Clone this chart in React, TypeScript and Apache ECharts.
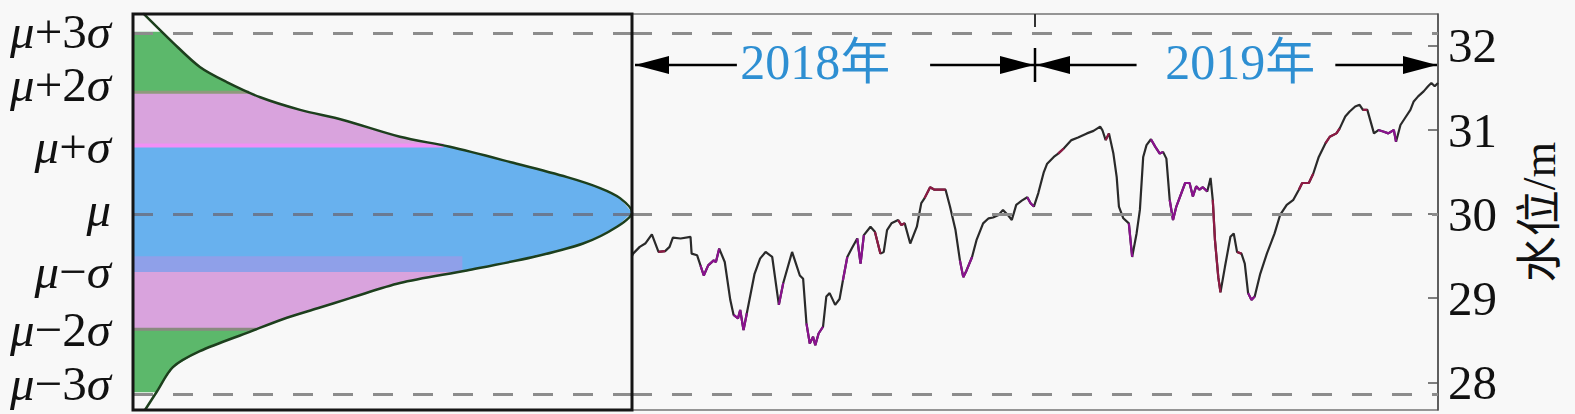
import { useEffect, useRef } from 'react';
import * as echarts from 'echarts';

// ---- time series (day index from 2018-01-01, water level in m) ----
const days = [0, 1, 7, 12, 18, 24, 30, 34, 37, 44, 53, 54, 59, 62, 65, 69, 74, 76, 79, 84, 89, 92, 96, 98, 101, 104, 111, 116, 121, 127, 133, 137, 145, 149, 152, 155, 158, 161, 164, 166, 169, 173, 176, 179, 184, 188, 191, 195, 199, 204, 207, 210, 216, 220, 225, 228, 231, 235, 241, 244, 247, 252, 258, 262, 265, 270, 274, 281, 284, 288, 293, 297, 300, 303, 308, 312, 318, 323, 327, 332, 336, 341, 344, 348, 353, 358, 361, 364, 368, 373, 376, 382, 386, 391, 398, 404, 412, 418, 424, 426, 429, 432, 436, 439, 441, 445, 450, 453, 457, 460, 463, 466, 470, 474, 478, 481, 484, 487, 490, 493, 501, 505, 508, 511, 514, 517, 521, 524, 526, 528, 531, 533, 537, 542, 545, 548, 552, 555, 558, 561, 564, 569, 575, 582, 587, 593, 599, 604, 607, 613, 617, 622, 628, 632, 638, 641, 646, 650, 655, 659, 662, 666, 669, 672, 676, 681, 685, 690, 692, 696, 700, 705, 708, 712, 717, 721, 724, 727, 730];
const levels = [29.50, 29.53, 29.61, 29.65, 29.76, 29.55, 29.56, 29.61, 29.72, 29.71, 29.73, 29.53, 29.51, 29.39, 29.27, 29.39, 29.45, 29.43, 29.59, 29.43, 28.98, 28.80, 28.76, 28.86, 28.62, 28.82, 29.29, 29.47, 29.55, 29.49, 28.92, 29.18, 29.55, 29.39, 29.27, 29.23, 28.70, 28.46, 28.54, 28.44, 28.58, 28.66, 29.02, 29.06, 28.92, 28.99, 29.21, 29.49, 29.59, 29.71, 29.41, 29.75, 29.85, 29.79, 29.53, 29.55, 29.81, 29.89, 29.93, 29.87, 29.89, 29.65, 29.85, 30.13, 30.19, 30.32, 30.29, 30.29, 30.29, 30.09, 29.81, 29.45, 29.25, 29.33, 29.49, 29.69, 29.89, 29.95, 29.96, 29.99, 30.05, 29.98, 29.93, 30.11, 30.16, 30.20, 30.13, 30.09, 30.25, 30.50, 30.60, 30.68, 30.72, 30.78, 30.88, 30.91, 30.96, 30.99, 31.04, 31.00, 30.88, 30.96, 30.72, 30.44, 30.09, 29.95, 29.89, 29.49, 29.77, 30.05, 30.68, 30.82, 30.89, 30.80, 30.72, 30.74, 30.66, 30.17, 29.93, 30.09, 30.37, 30.37, 30.21, 30.33, 30.29, 30.32, 30.27, 30.43, 30.17, 29.69, 29.25, 29.07, 29.37, 29.73, 29.77, 29.55, 29.53, 29.41, 29.06, 28.98, 29.02, 29.29, 29.53, 29.77, 29.99, 30.11, 30.17, 30.29, 30.37, 30.37, 30.48, 30.68, 30.84, 30.92, 30.96, 31.02, 31.16, 31.22, 31.28, 31.30, 31.24, 31.24, 31.10, 30.96, 31.00, 30.98, 30.96, 31.00, 30.86, 31.06, 31.14, 31.24, 31.34, 31.40, 31.46, 31.52, 31.56, 31.52, 31.56];

// highlighted stretches of the record (day ranges)
const purpleRanges = [[62, 80], [92, 104], [130, 143], [157, 175], [191, 198], [203, 212], [297, 311], [354, 367], [449, 456], [469, 483], [487, 501], [503, 523], [557, 567], [673, 694]];
const redRanges = [[21, 33], [220, 225], [236, 250], [265, 284], [384, 397], [427, 433], [525, 534], [546, 551], [602, 617], [628, 641], [662, 668]];

// ---- distribution curve (level in m, relative density 0..1) ----
const curveLevels = [32.39, 32.04, 31.75, 31.57, 31.39, 31.24, 31.12, 30.92, 30.80, 30.61, 30.44, 30.31, 30.19, 30.02, 29.85, 29.65, 29.49, 29.33, 29.18, 29.00, 28.88, 28.75, 28.60, 28.37, 28.18, 27.89, 27.67];
const curveDensity = [0.020, 0.080, 0.134, 0.188, 0.255, 0.335, 0.421, 0.535, 0.635, 0.762, 0.870, 0.936, 0.976, 1.000, 0.970, 0.902, 0.802, 0.669, 0.535, 0.435, 0.370, 0.300, 0.234, 0.134, 0.080, 0.048, 0.024];

// σ bands (level limits)
const bandLow = [31.45, 30.81, 29.31, 29.31, 28.63, 27.88];
const bandHigh = [32.17, 31.45, 30.81, 29.50, 29.31, 28.63];
const bandCap = [1, 1, 1, 0.66, 1, 1];
const boundaryLevels = [31.45, 30.815, 28.63];

// reference lines μ+3σ, μ, μ−3σ
const refLevels = [32.15, 30.0, 27.86];
const muLevel = 30.0;

// left labels
const sigmaLabels = ['μ+3σ', 'μ+2σ', 'μ+σ', 'μ', 'μ−σ', 'μ−2σ', 'μ−3σ'];
const sigmaLabelLevels = [32.17, 31.54, 30.80, 30.06, 29.32, 28.63, 27.98];

// right axis ticks
const tickValues = [28, 29, 30, 31, 32];

// year annotation
const yearLabels = ['2018年', '2019年'];
const yearBounds = [0, 365, 730];
const yearTextDay = [166, 551];
const yearGapStart = [95, 457];
const yearGapEnd = [270, 637];

// ---- styles / layout ----
const BANDCOLORS = ['#5cb86b', '#d9a3dd', '#68b1ee', '#8fa0e9', '#d9a3dd', '#5cb86b'];
const BOUNDCOLORS = ['#8f9a7c', '#f290f5', '#8a8a80'];
const GRID_TOP = 14;
const GRID_H = 396;
const LEFT_X = 133;
const LEFT_W = 499;
const RIGHT_X = 632;
const RIGHT_W = 806;
const Y_MIN = 27.67;
const Y_MAX = 32.38;
const SERIF = "'Liberation Serif', 'Times New Roman', 'Noto Sans CJK SC', serif";

function densityAt(lv: number): number {
  for (let i = 0; i < curveLevels.length - 1; i++) {
    const a = curveLevels[i];
    const b = curveLevels[i + 1];
    if (lv <= a && lv >= b) {
      const t = (a - lv) / (a - b);
      return curveDensity[i] + t * (curveDensity[i + 1] - curveDensity[i]);
    }
  }
  return 0;
}

function pick(ranges: number[][]) {
  const keep = days.map(() => false);
  for (const [s, e] of ranges) {
    const idx: number[] = [];
    days.forEach((d, i) => { if (d >= s && d <= e) idx.push(i); });
    if (idx.length === 0) {
      const j = days.findIndex((d) => d > e);
      if (j > 0) { idx.push(j - 1, j); }
    } else if (idx.length === 1) {
      const j = idx[0];
      if (j + 1 < days.length) idx.push(j + 1);
    }
    idx.forEach((i) => { keep[i] = true; });
  }
  return days.map((d, i) => (keep[i] ? [d, levels[i]] : [d, '-']));
}

function richLabel(s: string): string {
  let out = '';
  let buf = '';
  for (const ch of s) {
    if (ch === 'μ' || ch === 'σ') {
      if (buf) { out += `{n|${buf}}`; buf = ''; }
      out += `{i|${ch}}`;
    } else buf += ch;
  }
  if (buf) out += `{n|${buf}}`;
  return out;
}

export default function App() {
  const ref = useRef<HTMLDivElement>(null);
  useEffect(() => {
    if (!ref.current) return;
    const chart = echarts.init(ref.current, null, { renderer: 'svg' });
    const dash = { type: [20, 20], color: '#8c8c8c', width: 3 };
    const option: any = {
      animation: false,
      backgroundColor: '#f8f8f8',
      grid: [
        { left: LEFT_X, top: GRID_TOP, width: LEFT_W, height: GRID_H, show: false },
        { left: RIGHT_X, top: GRID_TOP, width: RIGHT_W, height: GRID_H, show: true, borderColor: '#333', borderWidth: 1.2, backgroundColor: 'transparent' },
      ],
      xAxis: [
        { gridIndex: 0, type: 'value', min: 0, max: 1, show: false },
        { gridIndex: 1, type: 'value', min: 0, max: 730, show: false },
      ],
      yAxis: [
        {
          gridIndex: 0, type: 'value', min: Y_MIN, max: Y_MAX, position: 'left',
          axisLine: { show: false, onZero: false }, axisTick: { show: false }, splitLine: { show: false },
          axisLabel: {
            customValues: sigmaLabelLevels,
            margin: 22,
            formatter: (v: number) => {
              const i = sigmaLabelLevels.findIndex((l) => Math.abs(l - v) < 1e-6);
              return i >= 0 ? richLabel(sigmaLabels[i]) : '';
            },
            rich: {
              i: { fontStyle: 'italic', fontSize: 49, fontFamily: SERIF, color: '#111' },
              n: { fontSize: 49, fontFamily: SERIF, color: '#111' },
            },
          },
        },
        {
          gridIndex: 1, type: 'value', min: Y_MIN, max: Y_MAX, position: 'right',
          axisLine: { show: true, onZero: false, lineStyle: { color: '#555', width: 1.5 } },
          axisTick: { show: true, inside: true, length: 10, customValues: tickValues, lineStyle: { color: '#555', width: 1.5 } },
          splitLine: { show: false },
          axisLabel: { customValues: tickValues, margin: 10, fontSize: 49, fontFamily: SERIF, color: '#111' },
          name: '水位/m', nameLocation: 'middle', nameRotate: 90, nameGap: 78,
          nameTextStyle: { fontSize: 46, fontFamily: SERIF, color: '#111' },
        },
      ],
      series: [
        {
          type: 'line', xAxisIndex: 0, yAxisIndex: 0, z: 1, data: [[0.5, Y_MIN - 5]], showSymbol: false, silent: true,
          markLine: { silent: true, symbol: 'none', label: { show: false }, lineStyle: dash, data: refLevels.map((v) => ({ yAxis: v })) },
        },
        {
          type: 'custom', xAxisIndex: 0, yAxisIndex: 0, z: 2, silent: true,
          data: bandLow.map((lo, i) => [0, lo, i]),
          renderItem: (params: any, api: any) => {
            const k = params.dataIndex;
            const lo = bandLow[k];
            const hi = bandHigh[k];
            const cap = bandCap[k];
            const pts: number[][] = [];
            pts.push(api.coord([0, hi]));
            pts.push(api.coord([Math.min(densityAt(hi), cap), hi]));
            for (let j = 0; j < curveLevels.length; j++) {
              const lv = curveLevels[j];
              if (lv < hi && lv > lo) pts.push(api.coord([Math.min(curveDensity[j], cap), lv]));
            }
            pts.push(api.coord([Math.min(densityAt(lo), cap), lo]));
            pts.push(api.coord([0, lo]));
            return { type: 'polygon', shape: { points: pts }, style: { fill: BANDCOLORS[k] } };
          },
        },
        {
          type: 'custom', xAxisIndex: 0, yAxisIndex: 0, z: 3, silent: true,
          data: boundaryLevels.map((lv, i) => [0, lv, i]),
          renderItem: (params: any, api: any) => {
            const k = params.dataIndex;
            const lv = boundaryLevels[k];
            const a = api.coord([0, lv]);
            const b = api.coord([densityAt(lv), lv]);
            return { type: 'line', shape: { x1: a[0], y1: a[1], x2: b[0], y2: b[1] }, style: { stroke: BOUNDCOLORS[k], lineWidth: k === 1 ? 4 : 3 } };
          },
        },
        {
          type: 'line', xAxisIndex: 0, yAxisIndex: 0, z: 4, data: [[0.5, Y_MIN - 5]], showSymbol: false, silent: true,
          markLine: { silent: true, symbol: 'none', label: { show: false }, lineStyle: { type: [20, 20], color: 'rgba(40,90,160,0.35)', width: 3 }, data: [{ yAxis: muLevel }] },
        },
        {
          type: 'line', xAxisIndex: 0, yAxisIndex: 0, z: 5, silent: true, showSymbol: false, smooth: 0.3,
          data: curveLevels.map((lv, i) => [curveDensity[i], lv]),
          lineStyle: { color: '#1d3f1d', width: 2.5 },
        },
        {
          type: 'line', xAxisIndex: 1, yAxisIndex: 1, z: 1, data: [[365, Y_MIN - 5]], showSymbol: false, silent: true,
          markLine: { silent: true, symbol: 'none', label: { show: false }, lineStyle: dash, data: refLevels.map((v) => ({ yAxis: v })) },
        },
        {
          type: 'line', xAxisIndex: 1, yAxisIndex: 1, z: 3, silent: true, showSymbol: false,
          data: days.map((d, i) => [d, levels[i]]),
          lineStyle: { color: '#2a2a2a', width: 2.2 },
        },
        {
          type: 'line', xAxisIndex: 1, yAxisIndex: 1, z: 4, silent: true, showSymbol: false, connectNulls: false,
          data: pick(purpleRanges),
          lineStyle: { color: '#8a128e', width: 2.2 },
        },
        {
          type: 'line', xAxisIndex: 1, yAxisIndex: 1, z: 4, silent: true, showSymbol: false, connectNulls: false,
          data: pick(redRanges),
          lineStyle: { color: '#8e1a44', width: 2.2 },
        },
      ],
    };
    chart.setOption(option);

    const px = (d: number) => (chart.convertToPixel({ gridIndex: 1 }, [d, 30]) as number[])[0];
    const ay = 65;
    const aLen = 34;
    const aHalf = 9;
    const g: any[] = [];
    const head = (tip: number, dir: number) => ({
      type: 'polygon', z: 100, silent: true,
      shape: { points: [[tip, ay], [tip - dir * aLen, ay - aHalf], [tip - dir * aLen, ay + aHalf]] },
      style: { fill: '#000' },
    });
    const seg = (x1: number, x2: number) => ({
      type: 'line', z: 100, silent: true,
      shape: { x1, y1: ay, x2, y2: ay }, style: { stroke: '#000', lineWidth: 2.5 },
    });
    for (let k = 0; k < yearLabels.length; k++) {
      const xs = px(yearBounds[k]) + (k === 0 ? 3 : 1);
      const xe = px(yearBounds[k + 1]) - 1;
      g.push(seg(xs, px(yearGapStart[k])));
      g.push(seg(px(yearGapEnd[k]), xe));
      g.push(head(xs, -1));
      g.push(head(xe, 1));
      g.push({
        type: 'text', z: 100, silent: true,
        style: { text: yearLabels[k], x: px(yearTextDay[k]), y: 62, fill: '#2e8fd2', fontSize: 50, fontFamily: SERIF, align: 'center', verticalAlign: 'middle' },
      });
    }
    const xd = px(yearBounds[1]);
    g.push({ type: 'line', z: 100, silent: true, shape: { x1: xd, y1: 48, x2: xd, y2: 82 }, style: { stroke: '#000', lineWidth: 2.5 } });
    g.push({ type: 'line', z: 100, silent: true, shape: { x1: xd, y1: GRID_TOP, x2: xd, y2: GRID_TOP + 13 }, style: { stroke: '#333', lineWidth: 2 } });
    g.push({
      type: 'rect', z: 100, silent: true,
      shape: { x: LEFT_X, y: GRID_TOP, width: LEFT_W, height: GRID_H },
      style: { fill: 'none', stroke: '#151515', lineWidth: 3 },
    });
    chart.setOption({ graphic: g });

    return () => chart.dispose();
  }, []);
  return (
    <div
      ref={ref}
      style={{ position: 'fixed', left: 0, top: 0, width: 1575, height: 414, background: '#f8f8f8' }}
    />
  );
}
